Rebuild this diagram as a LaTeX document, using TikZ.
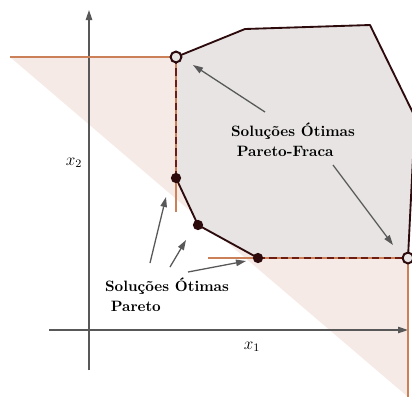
\documentclass[tikz,border=0pt]{standalone}
\usepackage{tikz}
\usetikzlibrary{arrows.meta,positioning,calc}
\definecolor{edgebrown}{RGB}{45,10,12}
\definecolor{conecolor}{RGB}{204,128,88}
\definecolor{conefill}{RGB}{246,234,230}
\definecolor{regionfill}{RGB}{232,228,228}
\definecolor{axisgray}{RGB}{88,88,88}
\definecolor{dashred}{RGB}{110,28,18}

\begin{document}
\begin{tikzpicture}[x=0.7pt,y=-0.7pt,
    pointer/.style={axisgray,line width=0.9pt,-{Triangle[length=7pt,width=4.5pt]}},
    labeltext/.style={font=\fontsize{10.5}{14}\selectfont\bfseries,align=left,inner sep=0pt}]
    \useasboundingbox (0,0) rectangle (412,399);
    \clip (0,0) rectangle (412,399);
    % Vertices
    \coordinate (A) at (176,57);
    \coordinate (B) at (245,29);
    \coordinate (C) at (370,25);
    \coordinate (D) at (415,117);
    \coordinate (E) at (408,258);
    \coordinate (F) at (258,258);
    \coordinate (G) at (198,225);
    \coordinate (H) at (176,178);
    \coordinate (coneleft) at (10,57);
    \coordinate (conedown) at (176,212);
    \coordinate (coneright) at (208,258);
    \coordinate (conebottom) at (408,397);
    % Shaded regions
    \fill[conefill] (coneleft) -- (A) -- (B) -- (C) -- (D) -- (E) -- (conebottom) -- cycle;
    \fill[regionfill] (A) -- (B) -- (C) -- (D) -- (E) -- (F) -- (G) -- (H) -- cycle;
    % Axes
    \coordinate (xstart) at (49,330);
    \coordinate (xend) at (408,330);
    \coordinate (ystart) at (89,370);
    \coordinate (yend) at (89,10);
    \draw[axisgray,line width=0.9pt,-{Triangle[length=7pt,width=4.5pt]}] (xstart) -- (xend);
    \draw[axisgray,line width=0.9pt,-{Triangle[length=7pt,width=4.5pt]}] (ystart) -- (yend);
    \node[font=\large] (xlabel) at (252,347) {$x_1$};
    \node[font=\large] (ylabel) at (74,163) {$x_2$};
    % Cones
    \draw[conecolor,line width=0.9pt] (coneleft) -- (A) -- (conedown);
    \draw[conecolor,line width=0.9pt] (coneright) -- (E) -- (conebottom);
    % Boundary
    \draw[edgebrown,line width=1.3pt,line join=round] (E) -- (D) -- (C) -- (B) -- (A);
    \draw[edgebrown,line width=1.3pt,line join=round] (H) -- (G) -- (F);
    \draw[dashred,line width=1.3pt,dash pattern=on 5pt off 3pt] (A) -- (H);
    \draw[dashred,line width=1.3pt,dash pattern=on 5pt off 3pt] (F) -- (E);
    % Points
    \fill[edgebrown] (H) circle (3.6pt);
    \fill[edgebrown] (G) circle (3.6pt);
    \fill[edgebrown] (F) circle (3.6pt);
    \draw[edgebrown,line width=1.4pt,fill=regionfill] (A) circle (3.8pt);
    \draw[edgebrown,line width=1.4pt,fill=regionfill] (E) circle (3.8pt);
    % Labels
    \node[labeltext] (weak) at (293,140) {Soluções Ótimas\\\hspace{4pt}Pareto-Fraca};
    \node[labeltext] (strong) at (167,295) {Soluções Ótimas\\\hspace{4pt}Pareto};
    \coordinate (weaktop) at (265,112);
    \coordinate (weakbot) at (333,165);
    \coordinate (weakA) at (193,65);
    \coordinate (weakE) at (393,245);
    \coordinate (strongone) at (150,263);
    \coordinate (strongtwo) at (170,267);
    \coordinate (strongthree) at (188,272);
    \coordinate (strongH) at (166,197);
    \coordinate (strongG) at (186,240);
    \coordinate (strongF) at (246,261);
    \draw[pointer] (weaktop) -- (weakA);
    \draw[pointer] (weakbot) -- (weakE);
    \draw[pointer] (strongone) -- (strongH);
    \draw[pointer] (strongtwo) -- (strongG);
    \draw[pointer] (strongthree) -- (strongF);
\end{tikzpicture}
\end{document}
